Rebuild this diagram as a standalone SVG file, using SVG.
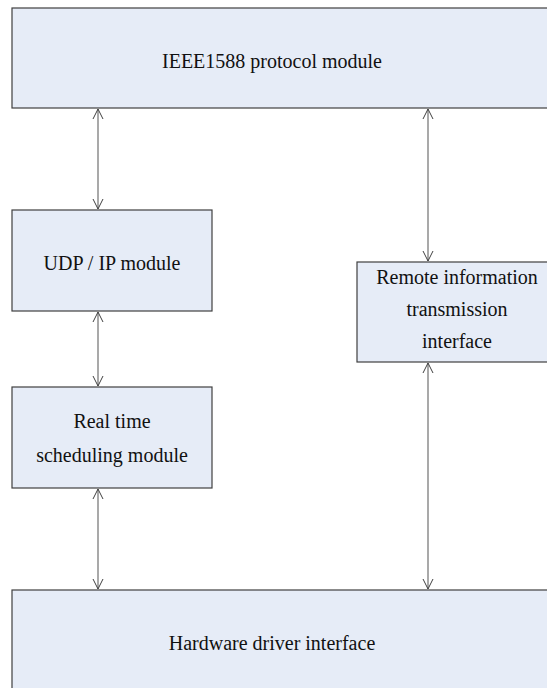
<svg xmlns="http://www.w3.org/2000/svg" width="547" height="688" viewBox="0 0 547 688">
<style>
.box{fill:#E6ECF7;stroke:#404040;stroke-width:1.2}
.t{font-size:20px;fill:#111;text-anchor:middle}
.c{stroke:#707070;stroke-width:1.2;fill:none}
.h{stroke:#404040;stroke-width:1;fill:none}
</style>
<rect width="547" height="688" fill="#fff"/>
<g font-family="Liberation Serif, Times New Roman, serif">
<g id="ieee">
<rect class="box" x="12" y="8" width="560" height="100"/>
<text class="t" x="272" y="68">IEEE1588 protocol module</text>
</g>
<g id="udp">
<rect class="box" x="12" y="210" width="200" height="101"/>
<text class="t" x="112" y="270">UDP / IP module</text>
</g>
<g id="remote">
<rect class="box" x="357" y="262" width="200" height="100"/>
<text class="t" x="457" y="284">Remote information</text>
<text class="t" x="457" y="316">transmission</text>
<text class="t" x="457" y="348">interface</text>
</g>
<g id="realtime">
<rect class="box" x="12" y="387" width="200" height="101"/>
<text class="t" x="112" y="428">Real time</text>
<text class="t" x="112" y="462">scheduling module</text>
</g>
<g id="hardware">
<rect class="box" x="12" y="590" width="560" height="120"/>
<text class="t" x="272" y="650">Hardware driver interface</text>
</g>
</g>
<g id="connectors">
<line class="c" x1="98" y1="109" x2="98" y2="209"/>
<polyline class="h" points="93,119 98,109 103,119"/>
<polyline class="h" points="93,199 98,209 103,199"/>
<line class="c" x1="98" y1="312" x2="98" y2="386"/>
<polyline class="h" points="93,322 98,312 103,322"/>
<polyline class="h" points="93,376 98,386 103,376"/>
<line class="c" x1="98" y1="489" x2="98" y2="589"/>
<polyline class="h" points="93,499 98,489 103,499"/>
<polyline class="h" points="93,579 98,589 103,579"/>
<line class="c" x1="428" y1="109" x2="428" y2="261"/>
<polyline class="h" points="423,119 428,109 433,119"/>
<polyline class="h" points="423,251 428,261 433,251"/>
<line class="c" x1="428" y1="363" x2="428" y2="589"/>
<polyline class="h" points="423,373 428,363 433,373"/>
<polyline class="h" points="423,579 428,589 433,579"/>
</g>
</svg>
